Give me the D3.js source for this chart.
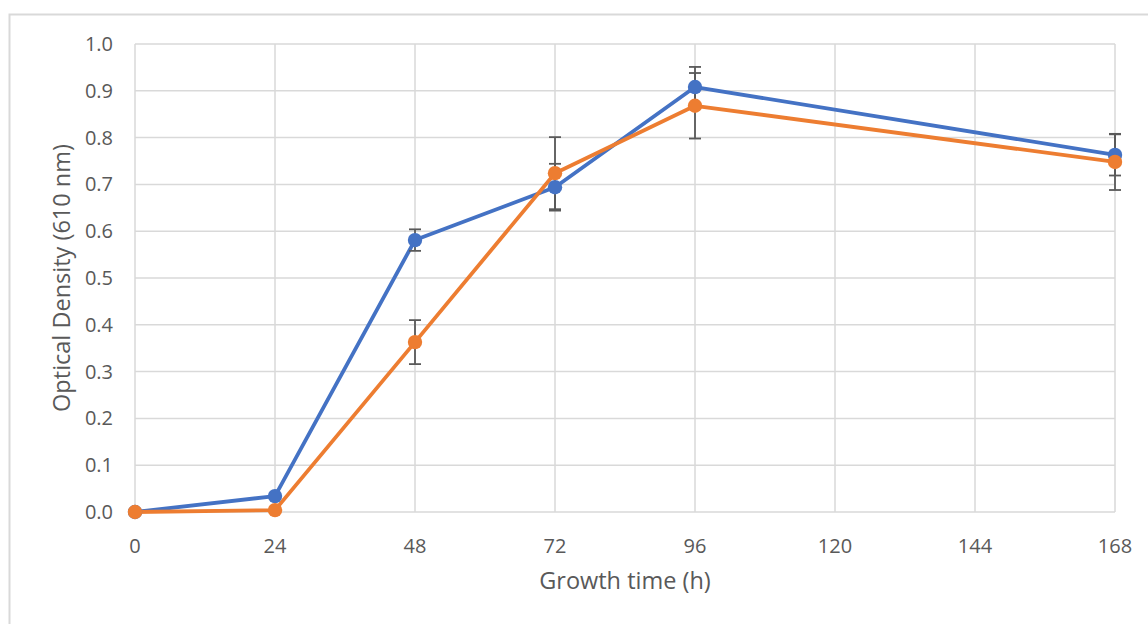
<!DOCTYPE html>
<html lang="en">
<head>
  <meta charset="UTF-8">
  <title>Optical Density vs Growth time</title>
  <script src="https://d3js.org/d3.v7.min.js"></script>
  <style>
    body { margin: 0; background: #fff; }
    text { font-family: "Open Sans", sans-serif; fill: #595959; }
    .tick-label { font-size: 20px; }
    .axis-title { font-size: 23.5px; }
  </style>
</head>
<body>
  <svg id="chart" width="1148" height="624"></svg>

  <script>
    // growth time (h)
    const hours = [0, 24, 48, 72, 96, 168];
    const xTicks = [0, 24, 48, 72, 96, 120, 144, 168];
    const yTicks = [0, 0.1, 0.2, 0.3, 0.4, 0.5, 0.6, 0.7, 0.8, 0.9, 1.0];

    // series 1 (blue)
    const blueOD  = [0.000, 0.034, 0.581, 0.694, 0.908, 0.763];
    const blueErr = [0.000, 0.000, 0.023, 0.050, 0.043, 0.044];
    // series 2 (orange)
    const orangeOD  = [0.000, 0.004, 0.363, 0.724, 0.868, 0.748];
    const orangeErr = [0.000, 0.000, 0.047, 0.077, 0.070, 0.060];

    const series = [
      { color: "#4472C4", od: blueOD, err: blueErr },
      { color: "#ED7D31", od: orangeOD, err: orangeErr }
    ];

    const svg = d3.select("#chart");
    const margin = { top: 44, right: 33, bottom: 112, left: 135 };
    const width = 1148 - margin.left - margin.right;
    const height = 624 - margin.top - margin.bottom;

    // outer chart frame (runs past the right/bottom edges)
    svg.append("rect")
      .attr("x", 9.5).attr("y", 14.5)
      .attr("width", 1160).attr("height", 640)
      .attr("fill", "none")
      .attr("stroke", "#d9d9d9")
      .attr("stroke-width", 2);

    const g = svg.append("g")
      .attr("transform", `translate(${margin.left},${margin.top})`);

    const x = d3.scaleLinear().domain([0, 168]).range([0, width]);
    const y = d3.scaleLinear().domain([0, 1]).range([height, 0]);

    // grid
    g.selectAll(".hgrid").data(yTicks).enter().append("line")
      .attr("x1", 0).attr("x2", width)
      .attr("y1", d => y(d)).attr("y2", d => y(d))
      .attr("stroke", "#d9d9d9").attr("stroke-width", 1.5);

    g.selectAll(".vgrid").data(xTicks).enter().append("line")
      .attr("x1", d => x(d)).attr("x2", d => x(d))
      .attr("y1", 0).attr("y2", height)
      .attr("stroke", "#d9d9d9").attr("stroke-width", 1.5);

    // tick labels
    g.selectAll(".ylab").data(yTicks).enter().append("text")
      .attr("class", "tick-label")
      .attr("x", -22)
      .attr("y", d => y(d))
      .attr("dy", "0.35em")
      .attr("text-anchor", "end")
      .text(d => d3.format(".1f")(d));

    g.selectAll(".xlab").data(xTicks).enter().append("text")
      .attr("class", "tick-label")
      .attr("x", d => x(d))
      .attr("y", height + 41)
      .attr("text-anchor", "middle")
      .text(d => d);

    // axis titles
    g.append("text")
      .attr("class", "axis-title")
      .attr("x", width / 2)
      .attr("y", height + 77)
      .attr("text-anchor", "middle")
      .text("Growth time (h)");

    g.append("text")
      .attr("class", "axis-title")
      .attr("transform", `translate(-65,${height / 2}) rotate(-90)`)
      .attr("text-anchor", "middle")
      .text("Optical Density (610 nm)");

    const line = d3.line()
      .x((d, i) => x(hours[i]))
      .y(d => y(d));

    series.forEach(s => {
      g.append("path")
        .datum(s.od)
        .attr("fill", "none")
        .attr("stroke", s.color)
        .attr("stroke-width", 3.8)
        .attr("stroke-linejoin", "round")
        .attr("d", line);
    });

    // error bars
    series.forEach(s => {
      const eb = g.append("g");
      s.od.forEach((v, i) => {
        if (!s.err[i]) return;
        const cx = x(hours[i]);
        const top = y(v + s.err[i]);
        const bot = y(v - s.err[i]);
        eb.append("line").attr("x1", cx).attr("x2", cx).attr("y1", top).attr("y2", bot)
          .attr("stroke", "#595959").attr("stroke-width", 1.8);
        [top, bot].forEach(yy => {
          eb.append("line").attr("x1", cx - 6).attr("x2", cx + 6).attr("y1", yy).attr("y2", yy)
            .attr("stroke", "#595959").attr("stroke-width", 1.8);
        });
      });
    });

    // markers
    series.forEach(s => {
      g.selectAll(null).data(s.od).enter().append("circle")
        .attr("cx", (d, i) => x(hours[i]))
        .attr("cy", d => y(d))
        .attr("r", 7.2)
        .attr("fill", s.color);
    });
  </script>
</body>
</html>
